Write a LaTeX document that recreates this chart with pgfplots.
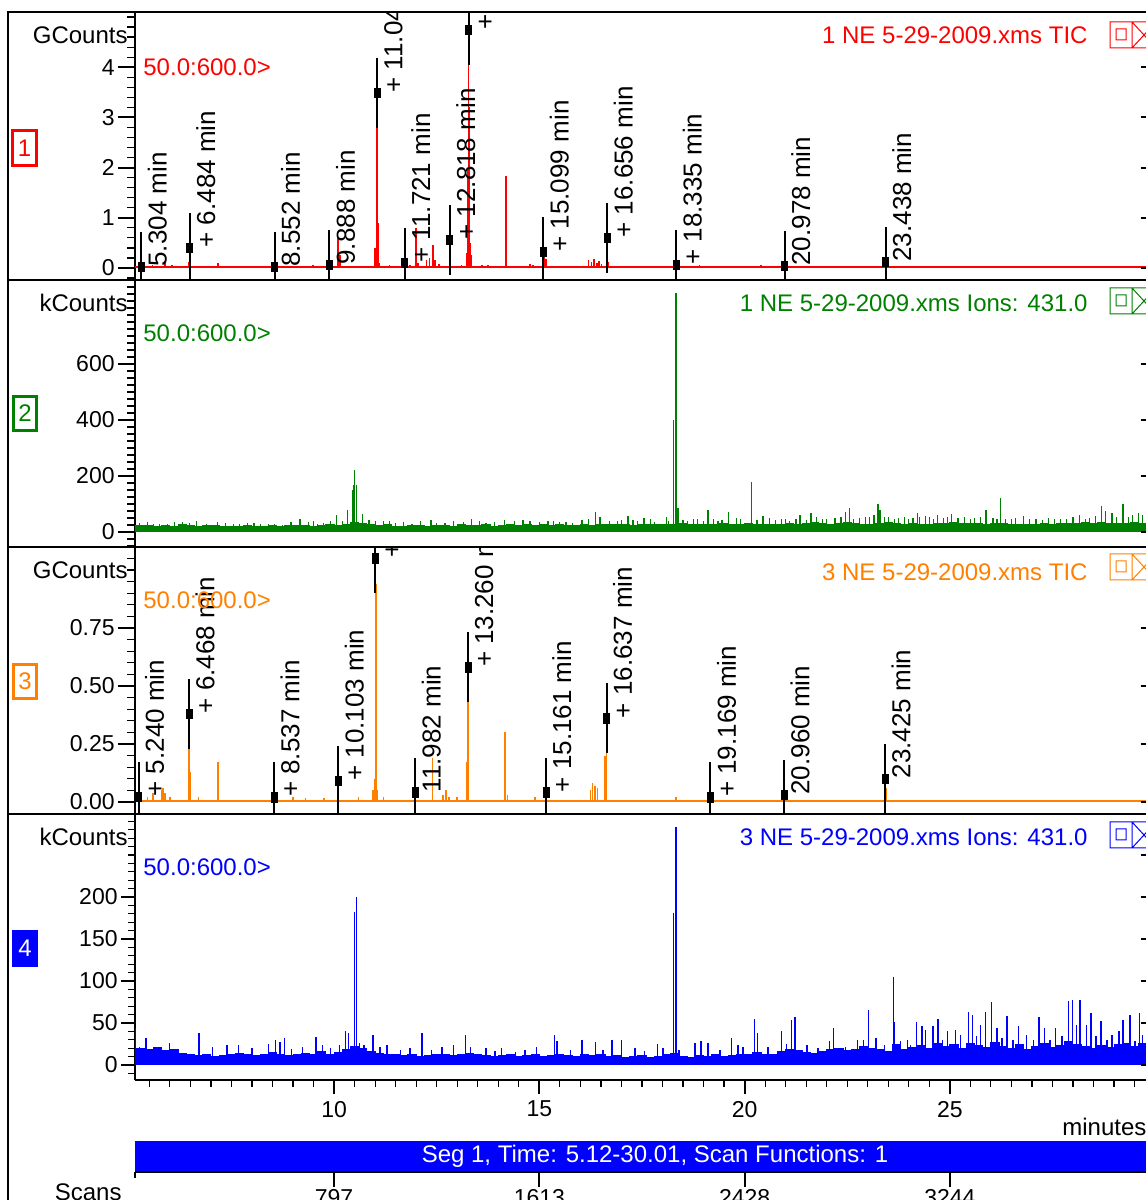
\documentclass[border=0pt]{standalone}
\usepackage{pgfplots}
\pgfplotsset{compat=1.18}
\usepackage{fontspec}
\setmainfont{Liberation Sans}

\definecolor{ticRed}{RGB}{255,0,0}
\definecolor{ionGreen}{RGB}{0,128,0}
\definecolor{ticOrange}{RGB}{255,128,0}
\definecolor{ionBlue}{RGB}{0,0,255}

\newcommand\tkfont{\fontsize{11.5pt}{13pt}\selectfont}
\newcommand\lbfont{\fontsize{12pt}{14pt}\selectfont}
\newcommand\pkfont{\fontsize{13pt}{15pt}\selectfont}

\pgfplotsset{
  chrom/.style={
    scale only axis, width=510.25pt, anchor=south west,
    xmin=5.15, xmax=30.01,
    axis y line*=left,
    axis line style={line width=1pt, black},
    tick align=outside,
    major tick length=8.5pt, minor tick length=4pt,
    major tick style={line width=1pt, black},
    minor tick style={line width=0.6pt, black},
    yticklabel style={font=\tkfont, inner sep=1.5pt},
    xticklabel style={font=\tkfont},
  },
  peakmarks/.style={
    only marks, mark=square*, mark size=1.5pt,
    mark options={black, fill=black, yscale=1.6},
    point meta=explicit symbolic,
    nodes near coords,
    every node near coord/.append style={font=\pkfont, text=black, inner sep=0pt,
      xshift=8pt, rotate=90, anchor=west},
    error bars/.cd, y dir=both, y fixed=#1, error mark=none,
    error bar style={line width=1pt, black},
  },
}

\begin{document}
\begin{tikzpicture}
\useasboundingbox (0pt,0pt) rectangle (573pt,600pt);
\clip (0pt,0pt) rectangle (573pt,600pt);
\begin{pgfinterruptboundingbox}

% ===== panel 1: TIC, sample 1 (GCounts) =====
\begin{scope}
\clip (0pt,460pt) rectangle (573pt,594pt);
\begin{axis}[chrom, axis x line=none, at={(67.5pt,460pt)}, height=134pt,
  ymin=-0.239, ymax=5.10,
  ytick={0,1,2,3,4}, yticklabels={0,1,2,3,4},
  minor ytick={-0.2,0,...,5.0}]
  \addplot[ticRed, line width=1pt] coordinates {(5.15,0.01) (30.01,0.01)};
  \addplot[ycomb, ticRed, line width=0.75pt] coordinates {
    (5.304,0.02) (5.58,0.06) (5.88,0.09) (6.05,0.05) (6.45,0.08) (6.47,0.12)
    (6.484,0.40) (6.50,0.25) (6.80,0.04) (7.17,0.10) (7.60,0.03) (8.552,0.02)
    (8.90,0.03) (9.49,0.05) (9.888,0.06) (10.10,0.60) (10.14,0.25) (10.30,0.04)
    (10.98,0.15) (11.00,0.40) (11.045,3.49) (11.07,0.90) (11.10,0.10) (11.35,0.05)
    (11.721,0.10) (11.85,0.06) (11.996,0.80) (12.05,0.10) (12.25,0.15) (12.33,0.20)
    (12.41,0.45) (12.46,0.15) (12.55,0.08) (12.818,0.56) (13.10,0.05) (13.24,0.30)
    (13.255,2.00) (13.275,4.74) (13.295,3.20) (13.32,0.50) (13.35,0.25) (13.60,0.05)
    (13.75,0.05) (13.90,0.04) (14.175,1.78) (14.19,1.83) (14.50,0.03) (14.77,0.08)
    (14.85,0.06) (15.099,0.32) (15.13,0.25) (15.16,0.18) (15.60,0.03) (16.20,0.15)
    (16.27,0.12) (16.33,0.18) (16.40,0.10) (16.45,0.14) (16.52,0.08) (16.656,0.60)
    (16.69,0.12) (17.00,0.03) (17.40,0.04) (18.335,0.06) (18.90,0.05) (19.10,0.03)
    (20.40,0.05) (20.978,0.04) (21.50,0.02) (23.438,0.12) (26.50,0.02)};
  \addplot[peakmarks=0.697] coordinates {
    (5.304,0.02) [5.304 min]
    (6.484,0.40) [+ 6.484 min]
    (8.552,0.02) [8.552 min]
    (9.888,0.06) [9.888 min]
    (11.045,3.49) [+ 11.045 min]
    (11.721,0.10) [+ 11.721 min]
    (12.818,0.56) [+ 12.818 min]
    (13.275,4.74) [+ 13.275 min]
    (15.099,0.32) [+ 15.099 min]
    (16.656,0.60) [+ 16.656 min]
    (18.335,0.06) [+ 18.335 min]
    (20.978,0.04) [20.978 min]
    (23.438,0.12) [23.438 min]};
  \pgfplotsinvokeforeach{0,1,2,3,4}{\draw[line width=1pt] (axis cs:29.645,#1) -- (axis cs:30.01,#1);}
\end{axis}
\end{scope}

% ===== panel 2: ion 431, sample 1 (kCounts) =====
\begin{scope}
\clip (0pt,326.5pt) rectangle (573pt,460pt);
\begin{axis}[chrom, axis x line=none, at={(67.5pt,326.5pt)}, height=133.5pt,
  ymin=-53.6, ymax=900,
  ytick={0,200,400,600}, yticklabels={0,200,400,600},
  minor ytick={-50,-25,...,875}]
  % noise floor
  \addplot[const plot, fill=ionGreen, draw=ionGreen, line width=0.5pt] coordinates {
    (5.15,0) (5.16,22) (5.4,24) (5.6,20) (5.8,23) (6.0,21) (6.2,25) (6.4,22) (6.6,20)
    (6.8,22) (7.0,24) (7.2,21) (7.4,19) (7.6,21) (7.8,22) (8.0,19) (8.2,21) (8.4,22)
    (8.6,20) (8.8,23) (9.0,22) (9.2,24) (9.4,21) (9.6,23) (9.8,25) (10.0,24) (10.2,28)
    (10.4,34) (10.6,30) (10.8,26) (11.0,24) (11.2,25) (11.4,21) (11.6,20) (11.8,22)
    (12.0,23) (12.2,21) (12.4,24) (12.6,23) (12.8,21) (13.0,25) (13.2,24) (13.4,22)
    (13.6,25) (13.8,21) (14.0,24) (14.2,26) (14.4,22) (14.6,25) (14.8,24) (15.0,26)
    (15.2,23) (15.4,25) (15.6,22) (15.8,24) (16.0,26) (16.2,24) (16.4,27) (16.6,25)
    (16.8,28) (17.0,25) (17.2,24) (17.4,27) (17.6,25) (17.8,28) (18.0,26) (18.2,28)
    (18.4,30) (18.6,25) (18.8,26) (19.0,28) (19.2,25) (19.4,29) (19.6,26) (19.8,28)
    (20.0,29) (20.2,26) (20.4,28) (20.6,25) (20.8,27) (21.0,29) (21.2,28) (21.4,31)
    (21.6,33) (21.8,29) (22.0,28) (22.2,30) (22.4,33) (22.6,29) (22.8,28) (23.0,27)
    (23.2,29) (23.4,35) (23.6,31) (23.8,28) (24.0,29) (24.2,27) (24.4,28) (24.6,30)
    (24.8,29) (25.0,33) (25.2,31) (25.4,30) (25.6,29) (25.8,28) (26.0,31) (26.2,29)
    (26.4,28) (26.6,27) (26.8,28) (27.0,27) (27.2,29) (27.4,28) (27.6,30) (27.8,29)
    (28.0,31) (28.2,33) (28.4,30) (28.6,35) (28.8,31) (29.0,29) (29.2,30) (29.4,33)
    (29.6,31) (29.8,30) (30.0,29) (30.01,0)};
  % single scans
  \addplot[ycomb, ionGreen, line width=0.6pt] coordinates {
    (5.25,31) (5.45,34) (5.60,28) (5.75,30) (5.95,30) (6.12,36) (6.30,34) (6.48,32)
    (6.65,39) (6.90,28) (7.15,35) (7.35,31) (7.55,30) (7.70,28) (7.90,33) (8.05,32)
    (8.20,30) (8.40,30) (8.55,28) (8.75,26) (8.95,34) (9.17,46) (9.38,34) (9.50,38)
    (9.60,30) (9.75,33) (9.92,39) (10.05,60) (10.20,40) (10.32,78) (10.44,150)
    (10.47,168) (10.50,221) (10.54,168) (10.70,64) (10.85,42) (11.00,38) (11.20,40)
    (11.35,38) (11.50,32) (11.70,35) (11.90,30) (12.10,40) (12.36,42) (12.50,33)
    (12.70,32) (12.90,38) (13.15,34) (13.35,46) (13.55,40) (13.70,32) (13.90,35)
    (14.16,42) (14.40,38) (14.60,42) (14.77,38) (15.00,36) (15.21,40) (15.35,40)
    (15.50,34) (15.65,35) (15.80,32) (16.04,43) (16.20,45) (16.36,71) (16.48,53)
    (16.70,38) (16.90,40) (17.00,44) (17.16,57) (17.28,43) (17.40,40) (17.55,50)
    (17.70,45) (17.80,35) (18.09,53) (18.15,40) (18.27,400) (18.33,854) (18.38,86)
    (18.50,42) (18.60,40) (18.75,45) (18.85,45) (19.00,40) (19.11,79) (19.25,48)
    (19.35,40) (19.45,42) (19.60,71) (19.80,50) (19.90,45) (20.16,178) (20.30,44)
    (20.45,57) (20.60,50) (20.75,42) (20.90,46) (21.00,45) (21.10,40) (21.25,48)
    (21.35,61) (21.50,42) (21.62,68) (21.75,52) (21.90,45) (22.00,45) (22.20,50)
    (22.35,55) (22.45,71) (22.55,86) (22.65,48) (22.80,50) (22.95,52) (23.05,55)
    (23.15,60) (23.25,100) (23.30,79) (23.40,55) (23.50,55) (23.65,48) (23.75,50)
    (23.90,55) (24.00,48) (24.10,50) (24.22,68) (24.27,53) (24.40,58) (24.50,55)
    (24.60,48) (24.70,60) (24.85,50) (24.95,55) (25.05,63) (25.20,50) (25.35,53)
    (25.50,48) (25.60,50) (25.75,55) (25.88,79) (26.05,50) (26.15,48) (26.24,121)
    (26.35,45) (26.50,45) (26.60,50) (26.80,56) (26.95,45) (27.10,48) (27.25,42)
    (27.40,50) (27.55,48) (27.70,45) (27.85,45) (28.00,52) (28.15,60) (28.30,48)
    (28.40,50) (28.55,58) (28.70,93) (28.80,75) (28.95,68) (29.05,55) (29.22,100)
    (29.35,55) (29.45,60) (29.60,68) (29.70,61) (29.80,52) (29.90,50)};
  \pgfplotsinvokeforeach{0,200,400,600}{\draw[line width=1pt] (axis cs:29.645,#1) -- (axis cs:30.01,#1);}
\end{axis}
\end{scope}

% ===== panel 3: TIC, sample 3 (GCounts) =====
\begin{scope}
\clip (0pt,193pt) rectangle (573pt,326.5pt);
\begin{axis}[chrom, axis x line=none, at={(67.5pt,193pt)}, height=133.5pt,
  ymin=-0.052, ymax=1.099,
  ytick={0,0.25,0.5,0.75}, yticklabels={0.00,0.25,0.50,0.75},
  minor ytick={-0.05,0,...,1.05}]
  \addplot[ticOrange, line width=1pt] coordinates {(5.15,0.002) (30.01,0.002)};
  \addplot[ycomb, ticOrange, line width=0.75pt] coordinates {
    (5.240,0.022) (5.45,0.02) (5.59,0.04) (5.80,0.05) (5.83,0.06) (5.88,0.04)
    (6.00,0.02) (6.20,0.01) (6.45,0.05) (6.468,0.38) (6.49,0.13) (6.70,0.02)
    (7.17,0.17) (7.50,0.01) (8.537,0.02) (8.58,0.03) (9.00,0.02) (9.30,0.015)
    (9.75,0.015) (10.103,0.09) (10.60,0.02) (10.95,0.05) (10.98,0.10) (11.003,1.05)
    (11.025,0.94) (11.05,0.05) (11.20,0.02) (11.982,0.04) (12.40,0.19) (12.65,0.03)
    (12.72,0.05) (12.80,0.02) (13.00,0.02) (13.24,0.17) (13.260,0.58) (13.28,0.06)
    (14.16,0.30) (14.22,0.03) (14.50,0.01) (14.90,0.02) (15.161,0.04) (15.50,0.01)
    (16.25,0.05) (16.30,0.08) (16.36,0.07) (16.42,0.06) (16.60,0.20) (16.637,0.36)
    (18.33,0.02) (18.85,0.01) (19.169,0.02) (19.90,0.01) (20.960,0.03) (23.425,0.10)
    (23.44,0.06)};
  \addplot[peakmarks=0.151] coordinates {
    (5.240,0.022) [+ 5.240 min]
    (6.468,0.38) [+ 6.468 min]
    (8.537,0.02) [+ 8.537 min]
    (10.103,0.09) [+ 10.103 min]
    (11.003,1.05) [+ 11.003 min]
    (11.982,0.04) [11.982 min]
    (13.260,0.58) [+ 13.260 min]
    (15.161,0.04) [+ 15.161 min]
    (16.637,0.36) [+ 16.637 min]
    (19.169,0.02) [+ 19.169 min]
    (20.960,0.03) [20.960 min]
    (23.425,0.10) [23.425 min]};
  \pgfplotsinvokeforeach{0,0.25,0.5,0.75}{\draw[line width=1pt] (axis cs:29.645,#1) -- (axis cs:30.01,#1);}
\end{axis}
\end{scope}

% ===== panel 4: ion 431, sample 3 (kCounts), carrying the time axis =====
\begin{axis}[chrom, axis x line*=bottom, at={(67.5pt,60pt)}, height=133pt,
  ymin=-17.86, ymax=298.8,
  ytick={0,50,100,150,200}, yticklabels={0,50,100,150,200},
  minor ytick={-10,0,...,290},
  xtick={10,15,20,25}, xticklabels={10,15,20,25},
  minor xtick={5.5,6,...,30},
  major tick length=7pt, minor tick length=3.5pt]
  % noise floor
  \addplot[const plot, fill=ionBlue, draw=ionBlue, line width=0.5pt] coordinates {
    (5.15,0) (5.16,20) (5.4,18) (5.6,21) (5.8,17) (6.0,19) (6.2,14) (6.4,12) (6.6,11)
    (6.8,12) (7.0,10) (7.2,11) (7.4,12) (7.6,14) (7.8,12) (8.0,11) (8.2,13) (8.4,15)
    (8.6,13) (8.8,11) (9.0,12) (9.2,14) (9.4,13) (9.6,16) (9.8,13) (10.0,15) (10.2,18)
    (10.4,22) (10.6,20) (10.8,16) (11.0,14) (11.2,12) (11.4,13) (11.6,11) (11.8,12)
    (12.0,10) (12.2,11) (12.4,13) (12.6,12) (12.8,11) (13.0,12) (13.2,14) (13.4,12)
    (13.6,11) (13.8,10) (14.0,11) (14.2,12) (14.4,10) (14.6,11) (14.8,12) (15.0,10)
    (15.2,11) (15.4,13) (15.6,11) (15.8,10) (16.0,12) (16.2,11) (16.4,13) (16.6,10)
    (16.8,11) (17.0,9) (17.2,10) (17.4,11) (17.6,9) (17.8,10) (18.0,12) (18.2,14)
    (18.4,10) (18.6,9) (18.8,11) (19.0,10) (19.2,12) (19.4,10) (19.6,11) (19.8,13)
    (20.0,12) (20.2,15) (20.4,13) (20.6,12) (20.8,16) (21.0,18) (21.2,17) (21.4,15)
    (21.6,14) (21.8,16) (22.0,18) (22.2,20) (22.4,17) (22.6,19) (22.8,22) (23.0,20)
    (23.2,18) (23.4,16) (23.6,24) (23.8,19) (24.0,21) (24.2,23) (24.4,20) (24.6,25)
    (24.8,22) (25.0,24) (25.2,20) (25.4,26) (25.6,23) (25.8,21) (26.0,27) (26.2,22)
    (26.4,20) (26.6,24) (26.8,19) (27.0,22) (27.2,25) (27.4,21) (27.6,23) (27.8,28)
    (28.0,24) (28.2,22) (28.4,20) (28.6,23) (28.8,21) (29.0,24) (29.2,26) (29.4,22)
    (29.6,25) (29.8,23) (30.0,20) (30.01,0)};
  % single scans
  \addplot[ycomb, ionBlue, line width=0.6pt] coordinates {
    (5.17,44) (5.25,21) (5.42,32) (5.78,20) (6.00,26) (6.71,38) (7.03,22) (7.39,24)
    (7.68,24) (8.00,20) (8.41,25) (8.58,30) (8.68,27) (8.80,32) (8.97,19) (9.24,22)
    (9.56,33) (9.71,24) (9.92,20) (10.14,24) (10.27,40) (10.36,38) (10.46,22)
    (10.50,182) (10.54,200) (10.61,26) (10.73,24) (10.95,36) (11.12,22) (11.29,24)
    (11.61,18) (11.85,20) (12.14,38) (12.38,18) (12.63,22) (12.90,24) (13.21,36)
    (13.33,22) (13.70,20) (13.92,17) (14.07,20) (14.41,16) (14.65,18) (14.94,22)
    (15.36,36) (15.43,28) (15.75,18) (16.04,30) (16.36,27) (16.55,18) (16.77,30)
    (17.01,30) (17.33,20) (17.57,17) (17.87,25) (18.01,20) (18.27,181) (18.33,283)
    (18.40,18) (18.79,26) (18.94,28) (19.11,26) (19.40,18) (19.69,32) (19.84,24)
    (19.96,22) (20.25,55) (20.32,38) (20.57,22) (20.89,40) (21.03,25) (21.14,54)
    (21.23,57) (21.52,24) (21.79,20) (22.06,28) (22.17,44) (22.45,22) (22.76,30)
    (22.90,30) (23.01,66) (23.20,32) (23.40,24) (23.63,105) (23.65,51) (23.79,28)
    (23.96,30) (24.05,24) (24.19,51) (24.32,46) (24.41,42) (24.59,46) (24.71,55)
    (24.83,30) (24.95,40) (25.13,42) (25.25,36) (25.45,63) (25.56,60) (25.64,34)
    (25.75,48) (25.86,63) (26.01,75) (26.15,44) (26.27,32) (26.39,58) (26.54,30)
    (26.68,46) (26.86,36) (27.03,30) (27.17,57) (27.31,44) (27.44,30) (27.57,44)
    (27.73,34) (27.90,76) (27.98,77) (28.09,48) (28.17,77) (28.33,48) (28.44,62)
    (28.56,34) (28.68,52) (28.83,30) (28.95,36) (29.12,40) (29.22,54) (29.39,60)
    (29.51,28) (29.62,62) (29.70,36)};
  \pgfplotsinvokeforeach{0,50,100,150,200,250}{\draw[line width=1pt] (axis cs:29.645,#1) -- (axis cs:30.01,#1);}
\end{axis}

% ===== segment bar and scan-number axis =====
\fill[ionBlue] (67.5pt,14pt) rectangle (578pt,29.5pt);
\node[text=white, font=\lbfont] at (327.5pt,21.75pt) {Seg 1, Time: 5.12-30.01, Scan Functions: 1};
\begin{axis}[scale only axis, width=510.25pt, height=2pt, anchor=south west, at={(67.5pt,14pt)},
  xmin=5.15, xmax=30.01, ymin=0, ymax=1,
  axis y line=none, axis x line*=bottom,
  axis line style={line width=1pt, black},
  tick align=outside, major tick length=7.5pt,
  major tick style={line width=1pt, black},
  xtick={10,15,20,25}, xticklabels={797,1613,2428,3244},
  xticklabel style={font=\tkfont, inner sep=1pt}]
  \addplot[draw=none] coordinates {(5.15,0) (30.01,0)};
\end{axis}
\draw[line width=1pt] (67.5pt,14pt) -- (67.5pt,11pt);
\node[anchor=east, font=\lbfont, inner sep=0pt] at (61pt,4pt) {Scans};
\node[anchor=west, font=\lbfont, inner sep=0pt] at (531pt,36.5pt) {minutes};

% ===== window frame and panel separators =====
\draw[line width=1.25pt] (4pt,0pt) -- (4pt,594pt) -- (578pt,594pt);
\draw[line width=1pt] (4pt,460pt) -- (578pt,460pt);
\draw[line width=1pt] (4pt,326.5pt) -- (578pt,326.5pt);
\draw[line width=1pt] (4pt,193pt) -- (578pt,193pt);

% ===== unit labels, mass ranges, trace titles =====
\node[anchor=east, font=\lbfont, inner sep=0pt] at (64pt,582.5pt) {GCounts};
\node[anchor=east, font=\lbfont, inner sep=0pt] at (64pt,448.5pt) {kCounts};
\node[anchor=east, font=\lbfont, inner sep=0pt] at (64pt,315pt) {GCounts};
\node[anchor=east, font=\lbfont, inner sep=0pt] at (64pt,181.5pt) {kCounts};

\node[anchor=west, font=\lbfont, inner sep=0pt, text=ticRed] at (71.5pt,566.5pt) {50.0:600.0>};
\node[anchor=west, font=\lbfont, inner sep=0pt, text=ionGreen] at (71.5pt,433.5pt) {50.0:600.0>};
\node[anchor=west, font=\lbfont, inner sep=0pt, text=ticOrange] at (71.5pt,300pt) {50.0:600.0>};
\node[anchor=west, font=\lbfont, inner sep=0pt, text=ionBlue] at (71.5pt,166.5pt) {50.0:600.0>};

\node[anchor=east, font=\lbfont, inner sep=0pt, text=ticRed] at (544pt,582.5pt) {1 NE 5-29-2009.xms TIC};
\node[anchor=east, font=\lbfont, inner sep=0pt, text=ionGreen] at (544pt,448.5pt) {1 NE 5-29-2009.xms Ions: 431.0};
\node[anchor=east, font=\lbfont, inner sep=0pt, text=ticOrange] at (544pt,314pt) {3 NE 5-29-2009.xms TIC};
\node[anchor=east, font=\lbfont, inner sep=0pt, text=ionBlue] at (544pt,181.5pt) {3 NE 5-29-2009.xms Ions: 431.0};

% view buttons at the right end of each trace title
\draw[ticRed, line width=0.5pt] (555pt,589pt) rectangle ++(11pt,-13pt) (558pt,585.5pt) rectangle ++(5pt,-5.5pt)
  (566pt,589pt) rectangle ++(12pt,-13pt) (566pt,589pt) -- ++(12pt,-13pt) (566pt,576pt) -- ++(12pt,13pt);
\draw[ionGreen, line width=0.5pt] (555pt,456pt) rectangle ++(11pt,-13pt) (558pt,452.5pt) rectangle ++(5pt,-5.5pt)
  (566pt,456pt) rectangle ++(12pt,-13pt) (566pt,456pt) -- ++(12pt,-13pt) (566pt,443pt) -- ++(12pt,13pt);
\draw[ticOrange, line width=0.5pt] (555pt,323pt) rectangle ++(11pt,-13pt) (558pt,319.5pt) rectangle ++(5pt,-5.5pt)
  (566pt,323pt) rectangle ++(12pt,-13pt) (566pt,323pt) -- ++(12pt,-13pt) (566pt,310pt) -- ++(12pt,13pt);
\draw[ionBlue, line width=0.5pt] (555pt,189pt) rectangle ++(11pt,-13pt) (558pt,185.5pt) rectangle ++(5pt,-5.5pt)
  (566pt,189pt) rectangle ++(12pt,-13pt) (566pt,189pt) -- ++(12pt,-13pt) (566pt,176pt) -- ++(12pt,13pt);

% trace index boxes
\fill[ticRed] (5.5pt,516.5pt) rectangle ++(13.5pt,19pt);
\fill[white] (7pt,518pt) rectangle ++(10.5pt,16pt);
\node[text=ticRed, font=\lbfont, inner sep=0pt] at (12.25pt,526pt) {1};
\fill[ionGreen] (6pt,384pt) rectangle ++(13pt,18.5pt);
\fill[white] (7.5pt,385.5pt) rectangle ++(10pt,15.5pt);
\node[text=ionGreen, font=\lbfont, inner sep=0pt] at (12.5pt,393.25pt) {2};
\fill[ticOrange] (6pt,250pt) rectangle ++(13pt,18.5pt);
\fill[white] (7.5pt,251.5pt) rectangle ++(10pt,15.5pt);
\node[text=ticOrange, font=\lbfont, inner sep=0pt] at (12.5pt,259.25pt) {3};
\fill[ionBlue] (6pt,116.5pt) rectangle ++(13pt,18.5pt);
\node[text=white, font=\lbfont, inner sep=0pt] at (12.5pt,125.75pt) {4};

\end{pgfinterruptboundingbox}
\end{tikzpicture}
\end{document}
